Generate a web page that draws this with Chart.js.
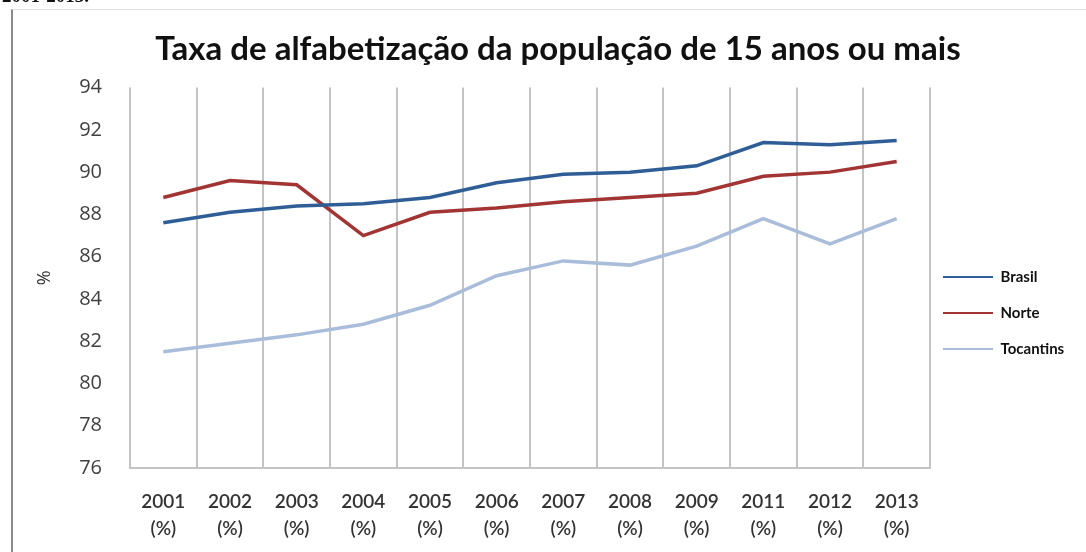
<!DOCTYPE html>
<html>
<head>
<meta charset="utf-8">
<script src="https://cdn.jsdelivr.net/npm/chart.js@4.4.0/dist/chart.umd.min.js"></script>
<style>
    body { margin: 0; background: #fff; overflow: hidden; }
    #wrap { position: relative; width: 1086px; height: 552px; }
    #frame { position: absolute; left: 11px; top: 9px; right: 0; bottom: 0; border-left: 2px solid #8a8a8a; border-top: 1px solid #e2e2e2; pointer-events: none; }
    #cut { position: absolute; left: 2px; top: -15px; font: bold 19px "Liberation Serif", serif; color: #111; }
</style>
</head>
<body>
<div id="wrap">
    <div id="cut">2001-2013.</div>
    <canvas id="taxaChart" width="1086" height="552"></canvas>
    <div id="frame"></div>
</div>
<script>
// Data
const years = ["2001", "2002", "2003", "2004", "2005", "2006", "2007", "2008", "2009", "2011", "2012", "2013"];
const brasil = [87.6, 88.1, 88.4, 88.5, 88.8, 89.5, 89.9, 90.0, 90.3, 91.4, 91.3, 91.5];
const norte = [88.8, 89.6, 89.4, 87.0, 88.1, 88.3, 88.6, 88.8, 89.0, 89.8, 90.0, 90.5];
const tocantins = [81.5, 81.9, 82.3, 82.8, 83.7, 85.1, 85.8, 85.6, 86.5, 87.8, 86.6, 87.8];
const yTicks = [76, 78, 80, 82, 84, 86, 88, 90, 92, 94];

const labels = years.map(y => [y, "(%)"]);

// legend box: fixed width so the plot ends at ~930, then nudged down like the original
const legendPlace = {
    id: 'legendPlace',
    beforeLayout(chart) {
        const lg = chart.legend;
        if (lg && !lg._patched) {
            const f = lg.fit.bind(lg);
            lg.fit = function () { f(); this.width = 156; };
            lg._patched = true;
        }
    },
    afterLayout(chart) {
        const lg = chart.legend;
        lg.left -= 8; lg.right -= 8;
        lg.top += 22; lg.bottom += 22;
    }
};

document.addEventListener("DOMContentLoaded", function () {
    const ctx = document.getElementById("taxaChart").getContext("2d");

    new Chart(ctx, {
        type: "line",
        data: {
            labels: labels,
            datasets: [
                { label: "Brasil", data: brasil, borderColor: "#2f5d96", backgroundColor: "#2f5d96" },
                { label: "Norte", data: norte, borderColor: "#a23434", backgroundColor: "#a23434" },
                { label: "Tocantins", data: tocantins, borderColor: "#a9bddb", backgroundColor: "#a9bddb" }
            ]
        },
        plugins: [legendPlace],
        options: {
            responsive: false,
            animation: false,
            elements: {
                line: { borderWidth: 3.5, tension: 0 },
                point: { radius: 0 }
            },
            layout: { padding: { left: 30, top: 30, bottom: 0 } },
            scales: {
                x: {
                    offset: true,
                    afterFit: axis => { axis.height = 84; },
                    grid: { offset: true, color: "#c4c4c4", lineWidth: 2, drawTicks: false },
                    border: { color: "#c4c4c4", width: 2 },
                    ticks: {
                        padding: 20,
                        maxRotation: 0,
                        color: "#333",
                        font: { family: "Lato", size: 19, weight: "600", lineHeight: 1.42 }
                    }
                },
                y: {
                    min: 76,
                    max: 94,
                    afterBuildTicks: axis => { axis.ticks = yTicks.map(v => ({ value: v })); },
                    afterFit: axis => { axis.width = 100; },
                    grid: { display: false },
                    border: { display: false },
                    title: {
                        display: true,
                        text: "%",
                        color: "#333",
                        padding: { bottom: 18 },
                        font: { family: "Open Sans", size: 18 }
                    },
                    ticks: {
                        padding: 20,
                        color: "#404040",
                        font: { family: "Open Sans", size: 20 }
                    }
                }
            },
            plugins: {
                title: {
                    display: true,
                    text: "Taxa de alfabetização da população de 15 anos ou mais",
                    color: "#111",
                    padding: { top: 0, bottom: 18 },
                    font: { family: "Lato", size: 33, weight: "bold" }
                },
                legend: {
                    position: "right",
                    align: "center",
                    labels: {
                        boxWidth: 50,
                        boxHeight: 2,
                        padding: 21,
                        color: "#111",
                        font: { family: "Lato", size: 15, weight: "bold" },
                        generateLabels: chart => Chart.defaults.plugins.legend.labels.generateLabels(chart)
                            .map(l => Object.assign(l, { lineWidth: 0 }))
                    }
                },
                tooltip: { enabled: false }
            }
        }
    });
});
</script>
</body>
</html>
